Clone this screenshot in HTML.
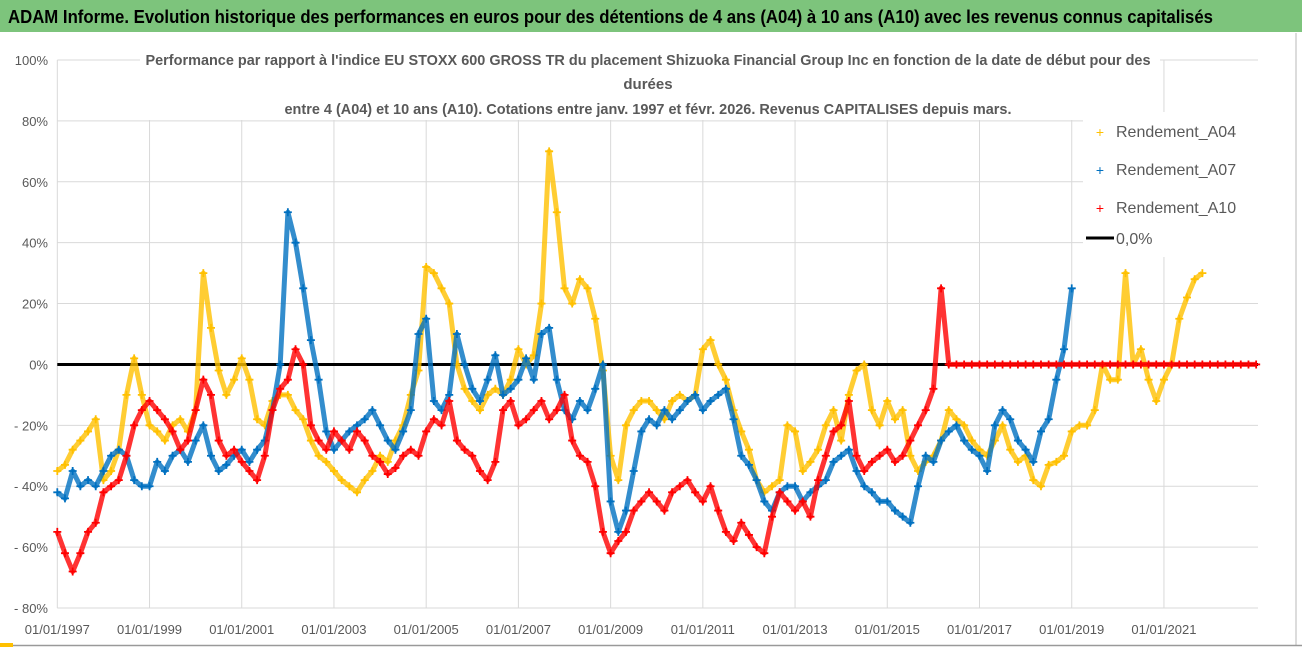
<!DOCTYPE html>
<html><head><meta charset="utf-8">
<style>
html,body{margin:0;padding:0;background:#fff;}
body{width:1302px;height:647px;overflow:hidden;position:relative;font-family:"Liberation Sans Narrow","Liberation Sans",sans-serif;}
svg{position:absolute;left:0;top:0;}
</style></head>
<body>
<svg id="chart" width="1302" height="647" viewBox="0 0 1302 647">
  <rect x="0" y="0" width="1302" height="647" fill="#fff"/>
  <rect x="0" y="0" width="1302" height="32" fill="#7dc47c"/>
  <text x="8" y="23" font-size="18" font-weight="bold" fill="#000" textLength="1205" lengthAdjust="spacingAndGlyphs">ADAM Informe. Evolution historique des performances en euros pour des détentions de 4 ans (A04) à 10 ans (A10) avec les revenus connus capitalisés</text>
  <line x1="1296" y1="33" x2="1296" y2="645" stroke="#d0d0d0" stroke-width="1.5"/>
  <line x1="0" y1="645.5" x2="1302" y2="645.5" stroke="#999" stroke-width="1.5"/>
  <rect x="0" y="643" width="13" height="4" fill="#ffc000"/>
  <g id="grid"></g>
  <g id="marks"></g>
  <rect x="140" y="46" width="1020" height="74" fill="#fff"/>
  <text x="648" y="65" font-size="15" font-weight="bold" fill="#595959" text-anchor="middle" textLength="1005" lengthAdjust="spacingAndGlyphs">Performance par rapport à l'indice EU STOXX 600 GROSS TR  du placement Shizuoka Financial Group Inc en fonction de la date de début pour des</text>
  <text x="648" y="89" font-size="15" font-weight="bold" fill="#595959" text-anchor="middle">durées</text>
  <text x="648" y="114" font-size="15" font-weight="bold" fill="#595959" text-anchor="middle" textLength="727" lengthAdjust="spacingAndGlyphs">entre 4 (A04) et 10 ans (A10). Cotations entre janv. 1997 et févr. 2026. Revenus CAPITALISES depuis mars.</text>
  <g id="legend">
    <rect x="1083" y="112" width="175" height="145" fill="#fff"/>
    <g>
      <text x="1100" y="137" font-size="14" fill="#ffc000" text-anchor="middle">+</text>
      <text x="1116" y="137" font-size="16" fill="#595959">Rendement_A04</text>
    </g>
    <g>
      <text x="1100" y="175" font-size="14" fill="#0070c0" text-anchor="middle">+</text>
      <text x="1116" y="175" font-size="16" fill="#595959">Rendement_A07</text>
    </g>
    <g>
      <text x="1100" y="213" font-size="14" fill="#ff0000" text-anchor="middle">+</text>
      <text x="1116" y="213" font-size="16" fill="#595959">Rendement_A10</text>
    </g>
    <g>
      <line x1="1086" y1="238" x2="1114" y2="238" stroke="#000" stroke-width="3"/>
      <text x="1116" y="244" font-size="16" fill="#595959">0,0%</text>
    </g>
  </g>
</svg>
<script>
const startYear = 1997;
const stepsPerYear = 6;
const yTickValues = [100,80,60,40,20,0,-20,-40,-60,-80];
const yTickLabels = ["100%","80%","60%","40%","20%","0%","- 20%","- 40%","- 60%","- 80%"];
const xTickYears = [1997,1999,2001,2003,2005,2007,2009,2011,2013,2015,2017,2019,2021];
const xTickLabels = ["01/01/1997","01/01/1999","01/01/2001","01/01/2003","01/01/2005","01/01/2007","01/01/2009","01/01/2011","01/01/2013","01/01/2015","01/01/2017","01/01/2019","01/01/2021"];
const rendementA04 = [
-35,-33,-28,-25,-22,-18, -38,-35,-28,-10,2,-10, -20,-22,-25,-20,-18,-22, -15,30,12,-2,-10,-5,
2,-5,-18,-20,-12,-10, -10,-15,-18,-25,-30,-32, -35,-38,-40,-42,-38,-35, -30,-32,-25,-20,-10,-2,
32,30,25,20,0,-8, -12,-15,-10,-8,-10,-5, 5,0,3,20,70,50, 25,20,28,25,15,-2,
-30,-38,-20,-15,-12,-12, -15,-18,-12,-10,-12,-10, 5,8,0,-5,-15,-22, -28,-38,-42,-40,-38,-20,
-22,-35,-32,-28,-20,-15, -25,-10,-2,0,-15,-20, -12,-18,-15,-30,-35,-32, -30,-25,-15,-18,-20,-25,
-28,-30,-25,-20,-28,-32, -30,-38,-40,-33,-32,-30, -22,-20,-20,-15,0,-5, -5,30,0,5,-5,-12,
-5,0,15,22,28,30];
const rendementA07 = [
-42,-44,-35,-40,-38,-40, -35,-30,-28,-30,-38,-40, -40,-32,-35,-30,-28,-32, -25,-20,-30,-35,-33,-30,
-28,-32,-28,-25,-15,0, 50,40,25,8,-5,-22, -28,-25,-22,-20,-18,-15, -20,-25,-28,-22,-15,10,
15,-12,-15,-10,10,0, -8,-12,-5,3,-10,-8, -5,2,-5,10,12,-5, -15,-18,-12,-15,-8,0,
-45,-55,-48,-35,-22,-18, -20,-15,-18,-15,-12,-10, -15,-12,-10,-8,-18,-30, -33,-38,-45,-48,-42,-40,
-40,-45,-42,-40,-38,-32, -30,-28,-35,-40,-42,-45, -45,-48,-50,-52,-40,-30, -32,-25,-22,-20,-25,-28,
-30,-35,-20,-15,-18,-25, -28,-32,-22,-18,-5,5, 25];
const rendementA10 = [
-55,-62,-68,-62,-55,-52, -42,-40,-38,-30,-20,-15, -12,-15,-18,-22,-28,-25, -15,-5,-10,-25,-30,-28,
-32,-35,-38,-30,-15,-8, -5,5,0,-20,-25,-28, -22,-25,-28,-22,-25,-30, -32,-36,-34,-30,-28,-30,
-22,-18,-20,-12,-25,-28, -30,-35,-38,-32,-15,-12, -20,-18,-15,-12,-18,-15, -10,-25,-30,-32,-40,-55,
-62,-58,-55,-48,-45,-42, -45,-48,-42,-40,-38,-42, -45,-40,-48,-55,-58,-52, -56,-60,-62,-50,-42,-45,
-48,-45,-50,-38,-30,-22, -20,-12,-30,-35,-32,-30, -28,-32,-30,-25,-20,-15, -8,25,
0,0,0,0, 0,0,0,0,0,0, 0,0,0,0,0,0, 0,0,0,0,0,0, 0,0,0,0,0,0, 0,0,0,0,0,0, 0,0,0,0,0,0, 0];

const NS = "http://www.w3.org/2000/svg";
const plotLeft = 57.3, plotRight = 1258, plotTop = 60, plotBottom = 608;
const pxPerYear = 46.11;
function xScale(year){ return plotLeft + (year - startYear) * pxPerYear; }
function yScale(v){ return plotTop + (100 - v) / 180 * (plotBottom - plotTop); }

const grid = document.getElementById('grid');
const marks = document.getElementById('marks');
function mk(tag, attrs, parent){ const e = document.createElementNS(NS, tag); for (const k in attrs) e.setAttribute(k, attrs[k]); parent.appendChild(e); return e; }

yTickValues.forEach((v, i) => {
  const y = yScale(v);
  if (v !== 0) {
    const gl = mk('line', {x1: plotLeft, x2: plotRight, y1: y, y2: y, stroke: '#d9d9d9', 'stroke-width': 1}, grid);
    
    
  }
  const t = mk('text', {x: 48, y: y + 5, 'font-size': 13, fill: '#595959', 'text-anchor': 'end'}, grid);
  t.textContent = yTickLabels[i];
  
  
});
const vl = mk('line', {x1: plotLeft, x2: plotLeft, y1: plotTop, y2: plotBottom, stroke: '#d9d9d9', 'stroke-width': 1}, grid);


xTickYears.forEach((yr, i) => {
  const x = xScale(yr);
  if (i > 0) {
    const gl = mk('line', {x1: x, x2: x, y1: plotTop, y2: plotBottom, stroke: '#d9d9d9', 'stroke-width': 1}, grid);
    
    
  }
  const t = mk('text', {x: x, y: 634, 'font-size': 13, fill: '#595959', 'text-anchor': 'middle'}, grid);
  t.textContent = xTickLabels[i];
  
  
});
const xl = mk('line', {x1: plotLeft, x2: plotRight, y1: plotBottom, y2: plotBottom, stroke: '#d9d9d9', 'stroke-width': 1}, grid);



const zero = mk('line', {x1: plotLeft, x2: plotRight, y1: yScale(0), y2: yScale(0), stroke: '#000', 'stroke-width': 3}, marks);



function drawSeries(values, color, name){
  const g = mk('g', {}, marks);
  
  
  const pts = values.map((v, i) => xScale(startYear + i / stepsPerYear).toFixed(1) + ',' + yScale(v).toFixed(1)).join(' ');
  mk('polyline', {points: pts, fill: 'none', stroke: color, 'stroke-width': 5, 'stroke-linejoin': 'round', opacity: 0.8}, g);
  values.forEach((v, i) => {
    const x = xScale(startYear + i / stepsPerYear), y = yScale(v);
    const p = mk('path', {d: `M${x-4},${y}H${x+4}M${x},${y-4}V${y+4}`, stroke: color, 'stroke-width': 1.8}, g);
    
    
  });
}
drawSeries(rendementA04, '#ffc000', 'series-a04');
drawSeries(rendementA07, '#0070c0', 'series-a07');
drawSeries(rendementA10, '#ff0000', 'series-a10');
</script>
</body></html>
